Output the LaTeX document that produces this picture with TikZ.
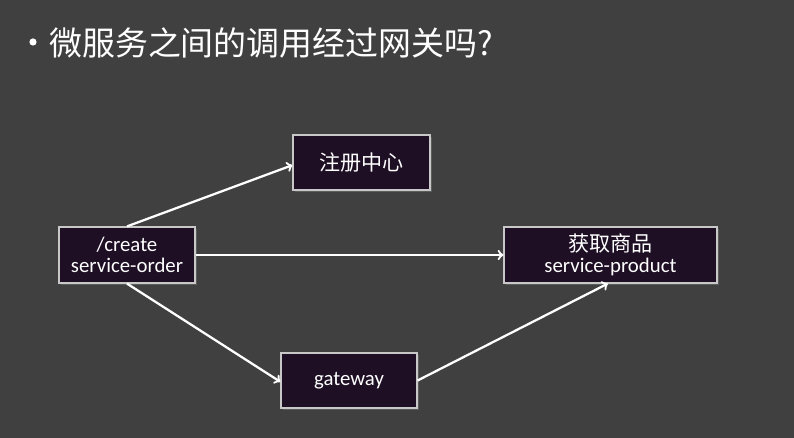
\documentclass[tikz,border=0pt]{standalone}
\usepackage{fontspec}
\setmainfont{Carlito}
\newfontfamily\cjk{Noto Sans CJK SC}
\usetikzlibrary{shadows}
\definecolor{slidebg}{HTML}{404040}
\definecolor{boxfill}{HTML}{1E0F24}
\definecolor{boxline}{HTML}{C8C8C8}

\begin{document}
\begin{tikzpicture}[x=0.75pt,y=-0.75pt,
    svc/.style={draw=boxline, line width=0.9pt, fill=boxfill, text=white, align=center,
      inner sep=0pt, font=\fontsize{15.6}{17}\selectfont,
      drop shadow={opacity=0.45, shadow xshift=1.2pt, shadow yshift=-1.2pt}},
    call/.style={draw=white, line width=1.7pt, ->, >=to}]
  % slide background
  \fill[slidebg] (0,0) rectangle (794,438);
  \useasboundingbox (0,0) rectangle (794,438);

  % title
  \fill[white] (33,42) circle (3.6);
  \node[anchor=west, text=white, inner sep=0pt, font=\cjk\fontsize{24.7}{27}\selectfont] (title) at (49,43) {微服务之间的调用经过网关吗?};

  % services
  \node[svc, minimum width=102.75pt, minimum height=41.25pt] (reg) at (361.5,162.5) {\cjk\fontsize{15.8}{17}\selectfont 注册中心};
  \node[svc, minimum width=102pt, minimum height=42pt] (order) at (127,255) {/create\\[-1pt]service-order};
  \node[svc, minimum width=159.75pt, minimum height=42pt] (product) at (610.5,255) {{\cjk\fontsize{15.8}{17}\selectfont 获取商品}\\[-1pt]service-product};
  \node[svc, minimum width=102pt, minimum height=41.25pt] (gw) at (349,380.5) {gateway};

  % calls
  \draw[call] (order.north) -- ([yshift=-2pt]reg.west);
  \draw[call] (order.east) -- (product.west);
  \draw[call] (order.south) -- ([yshift=-1pt]gw.west);
  \draw[call] (gw.east) -- ([xshift=-2pt]product.south);
\end{tikzpicture}
\end{document}
